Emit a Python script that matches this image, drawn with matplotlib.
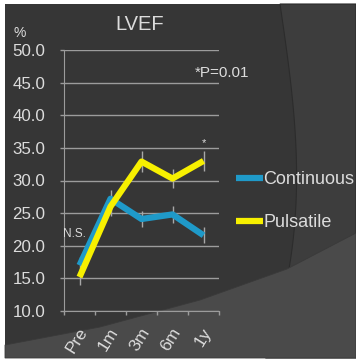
import numpy as np
import matplotlib.pyplot as plt
import matplotlib.transforms as mtransforms
from matplotlib.patches import Polygon

plt.rcParams['font.family'] = ['Liberation Sans', 'DejaVu Sans']

# LVEF (%) over follow-up, by pump type
timepoints = ['Pre', '1m', '3m', '6m', '1y']
continuous = [17.0, 27.2, 24.1, 24.8, 21.6]
pulsatile = [15.2, 26.0, 32.9, 30.3, 33.0]
continuous_err = [1.2, 1.4, 1.2, 1.3, 1.2]
pulsatile_err = [1.2, 1.4, 1.6, 1.5, 1.5]

W, H = 356, 362
TEXT = '#dcdcdc'
GRID = '#9c9c9c'

fig = plt.figure(figsize=(W / 100, H / 100), dpi=100)
fig.patch.set_facecolor('white')


def px(points):
    # pixel coords (origin top-left) -> figure fraction
    return [(x / W, 1 - y / H) for x, y in points]


# dark slide background with the curved swooshes
fig.patches.append(Polygon(px([(5, 4), (356, 4), (356, 358), (5, 358)]),
                           closed=True, transform=fig.transFigure,
                           facecolor='#363636', edgecolor='none', zorder=-3))
arc = np.linspace(0, 1, 40)
arc_x = 280 + 22 * np.sin(np.pi * arc * 0.75) - 30 * arc ** 3
arc_y = 4 + 354 * arc
right_pts = list(zip(arc_x, arc_y)) + [(356, 358), (356, 4)]
fig.patches.append(Polygon(px(right_pts), closed=True, transform=fig.transFigure,
                           facecolor='#3d3d3d', edgecolor='#2c2c2c', lw=0.8, zorder=-2))
low_x = np.array([5, 100, 200, 287, 356])
low_y = np.array([345, 327, 300, 269, 233])
low_pts = list(zip(low_x, low_y)) + [(356, 358), (5, 358)]
fig.patches.append(Polygon(px(low_pts), closed=True, transform=fig.transFigure,
                           facecolor='#4a4a4a', edgecolor='#3a3a3a', lw=0.6, zorder=-1))

ax = fig.add_axes([64 / W, 1 - 311 / H, 155 / W, 261 / H])
ax.set_facecolor('none')
x = np.arange(len(timepoints))

ax.errorbar(x, continuous, yerr=continuous_err, fmt='none', ecolor='#a8a8a8',
            elinewidth=1, capsize=0, zorder=2)
ax.errorbar(x, pulsatile, yerr=pulsatile_err, fmt='none', ecolor='#a8a8a8',
            elinewidth=1, capsize=0, zorder=2)
ax.plot(x, continuous, color='#1f9ac9', lw=4.5, solid_capstyle='butt',
        label='Continuous', zorder=3)
ax.plot(x, pulsatile, color='#f7f000', lw=4.5, solid_capstyle='butt',
        label='Pulsatile', zorder=4)

ax.set_xlim(-0.5, 4.5)
ax.set_ylim(10, 50)
ax.set_yticks(np.arange(10, 51, 5))
ax.set_yticklabels([f'{v:.1f}' for v in np.arange(10, 51, 5)])
ax.yaxis.grid(True, color=GRID, lw=1)
ax.set_axisbelow(True)
for side in ['top', 'right']:
    ax.spines[side].set_visible(False)
for side in ['left', 'bottom']:
    ax.spines[side].set_color(GRID)

ax.set_xticks(x)
ax.set_xticks(np.arange(-0.5, 5, 1), minor=True)
ax.tick_params(axis='x', which='major', length=0, pad=10)
ax.tick_params(axis='x', which='minor', length=3, color=GRID, width=1)
ax.tick_params(axis='y', length=3, color=GRID, width=1, labelsize=12.2,
               labelcolor=TEXT, pad=10.5)
ax.set_xticklabels(timepoints, rotation=58, ha='right', va='top',
                   rotation_mode='anchor', fontsize=12.5, color=TEXT)
shift = mtransforms.ScaledTranslation(-2 / 100, 0, fig.dpi_scale_trans)
for lbl in ax.get_xticklabels():
    lbl.set_transform(lbl.get_transform() + shift)

ax.text(-0.15, 21.8, 'N.S.', color=TEXT, fontsize=8.5, ha='center', va='center')
ax.text(4, 35.7, '*', color=TEXT, fontsize=8, ha='center', va='center')
ax.text(3.73, 46.5, '*P=0.01', color=TEXT, fontsize=11, ha='left', va='center',
        clip_on=False)

fig.text(140 / W, 1 - 25 / H, 'LVEF', color=TEXT, fontsize=14.5, ha='center', va='center')
fig.text(14 / W, 1 - 33 / H, '%', color=TEXT, fontsize=10, ha='left', va='center')

leg = ax.legend(loc='upper left', bbox_to_anchor=(236 / W, 1 - 171 / H),
                bbox_transform=fig.transFigure, frameon=False, fontsize=13,
                handlelength=1.5, handletextpad=0.0, labelspacing=1.45,
                borderaxespad=0, borderpad=0)
for t in leg.get_texts():
    t.set_color(TEXT)

fig.savefig('out.png', dpi=100, facecolor=fig.get_facecolor())
